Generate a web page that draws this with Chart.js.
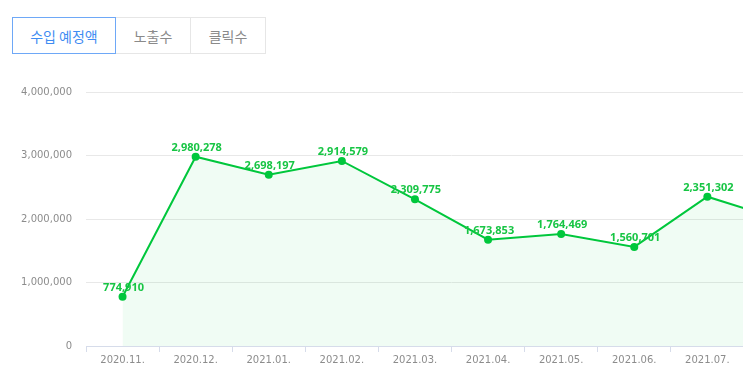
<!DOCTYPE html>
<html>
<head>
<meta charset="utf-8">
<script src="https://cdn.jsdelivr.net/npm/chart.js@4"></script>
<style>
html,body{margin:0;padding:0;width:743px;height:381px;overflow:hidden;background:#fff;}
.tabs{position:absolute;left:12px;top:17px;display:flex;}
.tab{box-sizing:border-box;height:37px;border:1px solid #e6e6e6;font-family:"Noto Sans CJK KR","Noto Sans",sans-serif;font-size:14px;color:#8a8a8a;display:flex;align-items:center;justify-content:center;background:#fff;margin-left:-1px;}
.tab.on{border-color:#6ea8f7;color:#3f8cf2;position:relative;z-index:1;margin-left:0;}
#wrap{position:absolute;left:0;top:60px;}
</style>
</head>
<body>
<div class="tabs">
  <div class="tab on" style="width:104px">수입 예정액</div>
  <div class="tab" style="width:76px">노출수</div>
  <div class="tab" style="width:76px">클릭수</div>
</div>
<div id="wrap"><canvas id="c" width="821" height="321"></canvas></div>
<script>
const categories = ["2020.11.","2020.12.","2021.01.","2021.02.","2021.03.","2021.04.","2021.05.","2021.06.","2021.07.","2021.08."];
const revenue = [774910,2980278,2698197,2914579,2309775,1673853,1764469,1560701,2351302,1990000];
const yTicks = [0,1000000,2000000,3000000,4000000];

const GREEN = "#00c73c";
const fmt = v => v.toLocaleString("en-US");

const labelPlugin = {
  id: "pointLabels",
  afterDatasetsDraw(chart) {
    const ctx = chart.ctx;
    const meta = chart.getDatasetMeta(0);
    ctx.save();
    ctx.font = "bold 11px 'Noto Sans', sans-serif";
    ctx.fillStyle = "#17c544";
    ctx.textAlign = "center";
    ctx.textBaseline = "alphabetic";
    meta.data.forEach((pt, i) => {
      ctx.fillText(fmt(revenue[i]), pt.x + 1, pt.y - 6);
    });
    ctx.restore();
  }
};

new Chart(document.getElementById("c"), {
  type: "line",
  data: {
    labels: categories,
    datasets: [{
      data: revenue,
      borderColor: GREEN,
      backgroundColor: "rgba(0,199,60,0.06)",
      fill: "origin",
      borderWidth: 2,
      tension: 0,
      pointRadius: 4,
      pointBackgroundColor: GREEN,
      pointBorderColor: GREEN,
      pointBorderWidth: 0,
      clip: false
    }]
  },
  options: {
    responsive: false,
    animation: false,
    devicePixelRatio: 1,
    layout: { padding: { top: 32, left: 0, right: 0, bottom: 0 } },
    plugins: { legend: { display: false }, tooltip: { enabled: false } },
    scales: {
      x: {
        offset: true,
        grid: { offset: true, drawOnChartArea: false, drawTicks: true, tickLength: 6, color: "#d6dcea" },
        border: { color: "#d6dcea" },
        ticks: { color: "#8c8c8c", font: { family: "DejaVu Sans", size: 10 }, padding: 2, maxRotation: 0, autoSkip: false },
        afterFit(s) { s.height = 35; }
      },
      y: {
        min: 0, max: 4000000,
        afterBuildTicks(s) { s.ticks = yTicks.map(v => ({ value: v })); },
        grid: { color: "#e8e8e8", drawTicks: false },
        border: { display: false },
        ticks: { color: "#8c8c8c", font: { family: "DejaVu Sans", size: 10 }, padding: 14, callback: v => fmt(v) },
        afterFit(s) { s.width = 86; }
      }
    }
  },
  plugins: [labelPlugin]
});
</script>
</body>
</html>
